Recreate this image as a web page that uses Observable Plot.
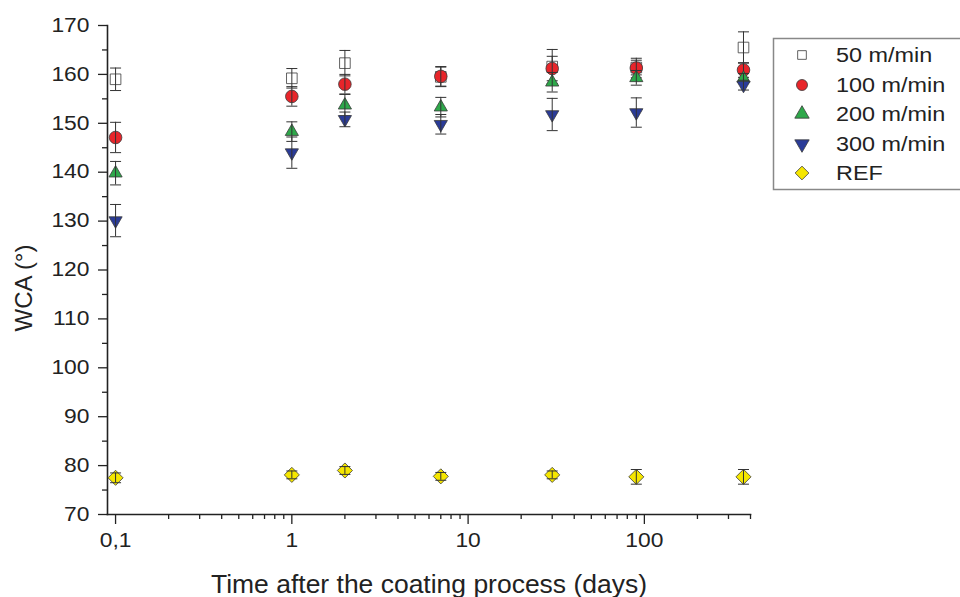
<!DOCTYPE html>
<html><head><meta charset="utf-8">
<script src="https://cdn.jsdelivr.net/npm/d3@7"></script>
<script src="https://cdn.jsdelivr.net/npm/@observablehq/plot@0.6"></script>
<style>
body{margin:0;background:#fff;font-family:"Liberation Sans",Arial,sans-serif;}
#wrap{position:relative;width:960px;height:597px;overflow:hidden;background:#fff;}
#wrap svg{position:absolute;left:0;top:0;}
</style></head><body><div id="wrap"></div>
<script>
// ---- data ----
const days = [0.1, 1, 2, 7, 30, 90, 365];
const wca50  = [159.0, 159.2, 162.3, 159.5, 161.6, 161.4, 165.5];
const err50  = [2.3, 2.0, 2.6, 2.0, 3.5, 1.5, 3.2];
const wca100 = [147.1, 155.5, 158.0, 159.6, 161.2, 161.3, 160.9];
const err100 = [3.1, 2.0, 2.0, 2.0, 2.5, 2.0, 1.5];
const wca200 = [139.8, 148.3, 153.7, 153.3, 158.4, 159.3, 159.2];
const err200 = [2.4, 2.0, 2.2, 2.0, 2.0, 1.5, 1.0];
const wca300 = [130.1, 144.0, 150.8, 149.8, 151.8, 152.2, 157.8];
const err300 = [3.3, 3.2, 1.5, 2.0, 3.3, 3.0, 1.0];
const wcaRef = [77.5, 78.1, 79.0, 77.8, 78.1, 77.7, 77.7];
const errRef = [1.0, 0.8, 0.8, 0.8, 0.8, 1.5, 1.5];
const seriesNames = ["50 m/min", "100 m/min", "200 m/min", "300 m/min", "REF"];

const yTicks = [70, 80, 90, 100, 110, 120, 130, 140, 150, 160, 170];
const yMinorTicks = [75, 85, 95, 105, 115, 125, 135, 145, 155, 165];
const xTicks = [0.1, 1, 10, 100];
const xTickLabels = ["0,1", "1", "10", "100"];
const xMinorTicks = [0.2,0.3,0.4,0.5,0.6,0.7,0.8,0.9,2,3,4,5,6,7,8,9,20,30,40,50,60,70,80,90,200,300,400];

// ---- symbols ----
const triDown = {draw(ctx, size){
  const y = -Math.sqrt(size / (Math.sqrt(3) * 3));
  ctx.moveTo(0, -2 * y);
  ctx.lineTo(-Math.sqrt(3) * y, y);
  ctx.lineTo(Math.sqrt(3) * y, y);
  ctx.closePath();
}};
const cap = {draw(ctx){ ctx.moveTo(-5.5, 0); ctx.lineTo(5.5, 0); }};

const series = [
  {name: seriesNames[0], v: wca50,  e: err50,  symbol: "square",   fill: "#ffffff", r: 6.0},
  {name: seriesNames[1], v: wca100, e: err100, symbol: "circle",   fill: "#e8252a", r: 6.3},
  {name: seriesNames[2], v: wca200, e: err200, symbol: "triangle", fill: "#2ea84a", r: 4.9},
  {name: seriesNames[3], v: wca300, e: err300, symbol: triDown,    fill: "#2a3b98", r: 4.9},
  {name: seriesNames[4], v: wcaRef, e: errRef, symbol: "diamond2", fill: "#f5e600", r: 6.8}
];

const marks = [];
for (const s of series) {
  const data = days.map((d, i) => ({day: d, v: s.v[i], e: s.e[i]}));
  marks.push(Plot.dot(data, {x: "day", y: "v", symbol: s.symbol, r: s.r, fill: s.fill, stroke: "#3a3a3a", strokeWidth: 0.8}));
  marks.push(Plot.ruleX(data, {x: "day", y1: d => d.v - d.e, y2: d => d.v + d.e, stroke: "#333", strokeWidth: 1}));
  marks.push(Plot.dot(data, {x: "day", y: d => d.v + d.e, symbol: cap, r: 3, stroke: "#333", strokeWidth: 1, fill: "none"}));
  marks.push(Plot.dot(data, {x: "day", y: d => d.v - d.e, symbol: cap, r: 3, stroke: "#333", strokeWidth: 1, fill: "none"}));
}

const chart = Plot.plot({
  width: 960, height: 597,
  marginLeft: 107, marginRight: 210, marginTop: 25, marginBottom: 83,
  style: {fontFamily: '"Liberation Sans", Arial, sans-serif', color: "#222", background: "#fff"},
  x: {type: "log", domain: [0.09, 400], axis: null},
  y: {domain: [70, 170], axis: null},
  marks: [
    Plot.axisY(yTicks, {tickSize: 9, tickPadding: 9, fontSize: 19.5, label: null, stroke: "#222", strokeWidth: 1.3}),
    Plot.axisY(yMinorTicks, {tickSize: 5, text: null, label: null, stroke: "#222", strokeWidth: 1.3}),
    Plot.axisX(xTicks, {tickSize: 10, tickPadding: 9, fontSize: 19.5, label: null, tickFormat: d => xTickLabels[xTicks.indexOf(d)], stroke: "#222", strokeWidth: 1.3}),
    Plot.axisX(xMinorTicks, {tickSize: 5, text: null, label: null, stroke: "#222", strokeWidth: 1.3}),
    Plot.frame({anchor: "left", stroke: "#222", strokeWidth: 1.6}),
    Plot.frame({anchor: "bottom", stroke: "#222", strokeWidth: 1.6}),
    ...marks
  ]
});
const wrap = document.getElementById("wrap");
wrap.appendChild(chart);

// stretch tick labels horizontally to match the reference's wide glyphs
chart.querySelectorAll('g[aria-label$="tick label"] text').forEach(t => {
  const len = t.getComputedTextLength();
  t.setAttribute("textLength", (len * 1.17).toFixed(1));
  t.setAttribute("lengthAdjust", "spacingAndGlyphs");
});

// ---- overlay: axis titles and legend ----
const ov = d3.select(wrap).append("svg").attr("width", 960).attr("height", 597)
  .style("font-family", '"Liberation Sans", Arial, sans-serif').style("pointer-events", "none");

ov.append("text").attr("transform", "translate(32,288) rotate(-90)")
  .attr("text-anchor", "middle").attr("font-size", 24).attr("fill", "#222").text("WCA (°)");

const xl = ov.append("text").attr("x", 429).attr("y", 593).attr("text-anchor", "middle")
  .attr("font-size", 25).attr("fill", "#222").text("Time after the coating process (days)");
xl.attr("textLength", 436).attr("lengthAdjust", "spacingAndGlyphs");

const lg = ov.append("g");
lg.append("rect").attr("x", 773.5).attr("y", 38.5).attr("width", 210).attr("height", 151)
  .attr("fill", "#fff").attr("stroke", "#888").attr("stroke-width", 1.5);
const legendSyms = [d3.symbolSquare, d3.symbolCircle, d3.symbolTriangle, triDown, d3.symbolDiamond2];
const legendSizes = [75, 95, 90, 90, 120];
const rowY = [55, 85, 114, 144, 173];
series.forEach((s, i) => {
  lg.append("path").attr("d", d3.symbol(legendSyms[i], legendSizes[i])())
    .attr("transform", `translate(802,${rowY[i]})`)
    .attr("fill", s.fill).attr("stroke", "#3a3a3a").attr("stroke-width", 0.8);
  const t = lg.append("text").attr("x", 836).attr("y", rowY[i] + 7).attr("font-size", 20).attr("fill", "#222").text(s.name);
  const len = t.node().getComputedTextLength();
  t.attr("textLength", (len * 1.17).toFixed(1)).attr("lengthAdjust", "spacingAndGlyphs");
});
</script></body></html>
